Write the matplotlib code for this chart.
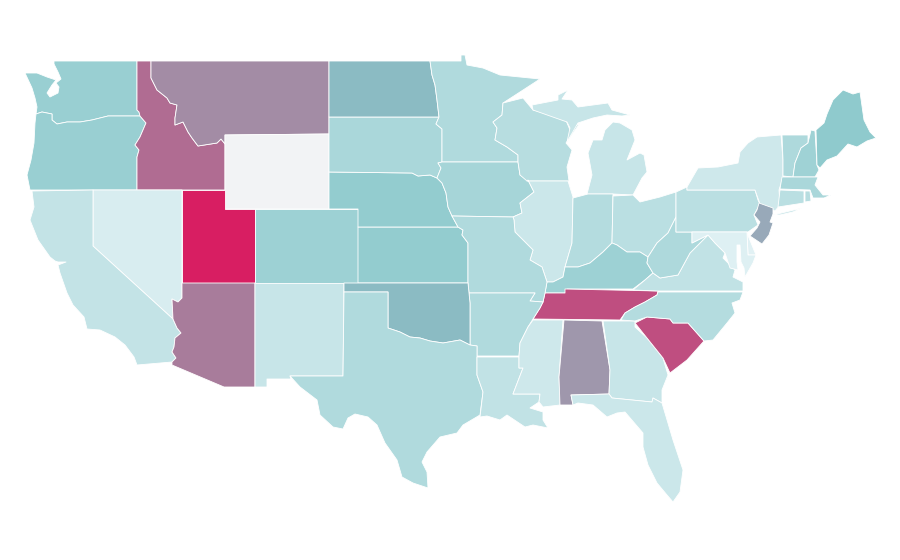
import matplotlib
matplotlib.use("Agg")
import matplotlib.pyplot as plt
import numpy as np
from matplotlib.colors import LinearSegmentedColormap, Normalize

# rough state outlines, pixel space of a 900x560 albers-ish projection
# no geo libs available so outlines are traced by hand
states = {
    "WA": [[(54, 61), (137, 61), (137, 110), (139, 112), (140, 116), (108, 116), (92, 120), (80, 122), (67, 122), (57, 124), (52, 120), (52, 114), (42, 112), (36, 114), (37, 107), (35, 98), (32, 88), (25, 73), (37, 73), (47, 77), (56, 80), (52, 85), (47, 93), (50, 97), (58, 93), (59, 87), (56, 83), (61, 79), (58, 72), (54, 64)]],
    "OR": [[(36, 114), (42, 112), (52, 114), (52, 120), (57, 124), (67, 122), (80, 122), (92, 120), (108, 116), (140, 116), (146, 123), (140, 137), (135, 145), (139, 150), (137, 157), (137, 190), (30, 190), (27, 175), (31, 160), (34, 143), (35, 123)]],
    "ID": [[(137, 61), (151, 61), (151, 78), (157, 90), (167, 98), (170, 103), (177, 105), (175, 118), (175, 125), (183, 122), (188, 132), (192, 138), (198, 146), (217, 143), (221, 139), (225, 144), (225, 190), (137, 190), (137, 157), (139, 150), (135, 145), (140, 137), (146, 123), (140, 116), (139, 112), (137, 110)]],
    "MT": [[(151, 61), (329, 61), (329, 134), (225, 135), (225, 144), (221, 139), (217, 143), (198, 146), (192, 138), (188, 132), (183, 122), (175, 125), (175, 118), (177, 105), (170, 103), (167, 98), (157, 90), (151, 78)]],
    "WY": [[(225, 135), (329, 134), (329, 209), (225, 209)]],
    "UT": [[(182, 190), (225, 190), (225, 209), (255, 209), (255, 283), (182, 283)]],
    "NV": [[(93, 190), (182, 190), (182, 298), (178, 302), (172, 299), (173, 319), (93, 246)]],
    "CA": [[(32, 191), (93, 190), (93, 246), (173, 319), (177, 328), (181, 333), (175, 338), (174, 347), (172, 352), (176, 358), (172, 362), (137, 365), (134, 357), (125, 345), (115, 337), (100, 330), (87, 329), (84, 317), (73, 305), (67, 293), (60, 273), (58, 265), (66, 262), (58, 262), (55, 261), (50, 257), (38, 240), (30, 220), (34, 207)]],
    "AZ": [[(182, 283), (255, 283), (255, 387), (224, 387), (172, 365), (172, 362), (176, 358), (172, 352), (174, 347), (175, 338), (181, 333), (177, 328), (173, 319), (172, 299), (178, 302), (182, 298)]],
    "NM": [[(255, 283), (344, 283), (343, 376), (290, 376), (291, 379), (267, 379), (267, 387), (255, 387)]],
    "CO": [[(255, 209), (358, 209), (358, 283), (255, 283)]],
    "KS": [[(358, 227), (458, 227), (463, 230), (462, 235), (468, 243), (468, 283), (358, 283)]],
    "NE": [[(329, 172), (412, 173), (418, 176), (430, 175), (437, 178), (442, 183), (446, 193), (448, 207), (452, 216), (458, 227), (358, 227), (358, 209), (329, 209)]],
    "SD": [[(329, 117), (439, 117), (436, 124), (442, 129), (442, 162), (438, 163), (441, 168), (437, 178), (430, 175), (418, 176), (412, 173), (329, 172)]],
    "ND": [[(329, 61), (430, 61), (432, 75), (435, 85), (437, 100), (439, 117), (329, 117)]],
    "MN": [[(430, 61), (461, 61), (461, 55), (465, 55), (467, 65), (483, 68), (500, 75), (520, 77), (540, 79), (520, 92), (503, 103), (502, 115), (493, 122), (497, 128), (495, 140), (507, 147), (518, 155), (518, 162), (442, 162), (442, 129), (436, 124), (439, 117), (437, 100), (435, 85), (432, 75)]],
    "IA": [[(442, 162), (518, 162), (520, 175), (528, 180), (534, 192), (520, 203), (522, 213), (513, 217), (452, 216), (448, 207), (446, 193), (442, 183), (437, 178), (441, 168), (438, 163)]],
    "WI": [[(503, 103), (523, 98), (533, 110), (565, 118), (570, 130), (580, 123), (566, 143), (572, 150), (567, 167), (569, 181), (527, 181), (520, 175), (518, 162), (518, 155), (507, 147), (495, 140), (497, 128), (493, 122), (502, 115)]],
    "MI": [[(532, 105), (558, 100), (558, 95), (568, 90), (562, 99), (572, 100), (578, 107), (608, 103), (612, 110), (630, 115), (622, 116), (607, 115), (593, 118), (578, 123), (567, 142), (570, 128), (567, 122), (533, 110)],
           [(613, 122), (605, 130), (602, 140), (593, 140), (588, 153), (592, 175), (587, 194), (613, 194), (633, 195), (642, 178), (647, 172), (644, 155), (640, 153), (627, 160), (635, 140), (632, 130), (620, 123)]],
    "IL": [[(527, 181), (568, 181), (573, 197), (572, 243), (565, 267), (563, 277), (553, 282), (547, 282), (542, 267), (530, 260), (533, 250), (525, 242), (515, 232), (514, 220), (513, 217), (522, 213), (520, 203), (534, 192), (528, 180)]],
    "IN": [[(573, 198), (588, 194), (613, 194), (612, 243), (603, 252), (590, 263), (578, 267), (565, 267), (572, 243)]],
    "OH": [[(613, 196), (633, 195), (640, 202), (660, 197), (676, 192), (676, 217), (668, 233), (657, 243), (648, 257), (640, 252), (627, 252), (617, 245), (612, 243)]],
    "KY": [[(565, 267), (578, 267), (590, 263), (603, 252), (612, 243), (617, 245), (627, 252), (640, 252), (648, 257), (647, 263), (653, 273), (645, 280), (633, 289), (567, 289), (565, 293), (545, 293), (547, 282), (553, 282), (563, 277)]],
    "TN": [[(545, 293), (565, 293), (565, 289), (658, 291), (657, 295), (645, 302), (635, 307), (625, 313), (620, 320), (533, 319), (540, 308), (543, 302)]],
    "MO": [[(452, 216), (513, 217), (514, 220), (515, 232), (525, 242), (533, 250), (530, 260), (542, 267), (547, 282), (545, 293), (543, 302), (530, 301), (535, 293), (469, 293), (468, 283), (468, 243), (462, 235), (463, 230), (458, 227)]],
    "AR": [[(469, 293), (535, 293), (530, 301), (543, 302), (540, 308), (533, 319), (528, 327), (520, 343), (519, 356), (477, 356), (477, 346), (470, 345), (470, 303)]],
    "OK": [[(344, 283), (468, 283), (469, 293), (470, 303), (470, 345), (460, 340), (443, 343), (430, 341), (420, 338), (410, 337), (400, 332), (388, 328), (388, 292), (344, 292)]],
    "TX": [[(344, 292), (388, 292), (388, 328), (400, 332), (410, 337), (420, 338), (430, 341), (443, 343), (460, 340), (470, 345), (477, 346), (477, 375), (483, 392), (480, 415), (463, 425), (457, 433), (440, 437), (427, 452), (422, 462), (427, 472), (428, 488), (413, 483), (402, 477), (397, 460), (385, 443), (377, 425), (368, 417), (355, 414), (348, 418), (343, 429), (333, 427), (320, 415), (317, 400), (300, 387), (290, 376), (343, 376)]],
    "LA": [[(477, 357), (519, 357), (519, 368), (523, 368), (513, 394), (540, 394), (539, 402), (530, 408), (543, 412), (543, 420), (548, 428), (533, 425), (525, 427), (507, 415), (500, 420), (487, 416), (480, 417), (483, 392), (477, 375)]],
    "MS": [[(533, 320), (563, 320), (559, 377), (560, 405), (543, 407), (539, 402), (540, 394), (513, 394), (523, 368), (519, 368), (519, 356), (520, 343), (528, 327)]],
    "AL": [[(564, 320), (602, 321), (610, 370), (609, 394), (571, 395), (573, 405), (560, 405), (559, 377)]],
    "GA": [[(603, 321), (635, 321), (635, 327), (647, 338), (663, 358), (668, 375), (662, 390), (662, 403), (653, 398), (652, 402), (612, 398), (609, 394), (610, 370)]],
    "FL": [[(571, 395), (609, 394), (612, 398), (652, 402), (653, 398), (662, 403), (673, 440), (683, 470), (680, 492), (673, 502), (667, 495), (657, 483), (648, 465), (643, 447), (643, 433), (625, 412), (617, 413), (607, 417), (593, 405), (578, 403), (573, 405)]],
    "SC": [[(635, 323), (647, 317), (670, 319), (673, 323), (688, 323), (704, 341), (687, 360), (670, 373), (663, 358), (647, 338)]],
    "NC": [[(658, 292), (743, 292), (740, 300), (732, 303), (735, 313), (727, 323), (713, 340), (704, 341), (688, 323), (673, 323), (670, 319), (647, 317), (635, 321), (621, 320), (625, 313), (635, 307), (645, 302), (657, 295)]],
    "VA": [[(633, 290), (645, 280), (653, 273), (660, 278), (678, 275), (690, 253), (708, 235), (715, 243), (725, 253), (723, 258), (735, 270), (733, 277), (743, 282), (743, 291), (658, 291)]],
    "WV": [[(676, 217), (676, 232), (692, 232), (692, 243), (708, 235), (690, 253), (678, 275), (660, 278), (653, 273), (647, 263), (648, 257), (657, 243), (668, 233)]],
    "PA": [[(676, 192), (687, 187), (687, 190), (755, 190), (758, 200), (760, 204), (754, 215), (758, 225), (748, 232), (676, 232)]],
    "NY": [[(687, 190), (687, 187), (698, 168), (718, 167), (738, 163), (740, 152), (748, 143), (757, 137), (781, 135), (783, 160), (783, 177), (779, 190), (780, 205), (775, 211), (760, 204), (755, 190)],
           [(773, 215), (802, 208), (793, 212), (780, 215)]],
    "VT": [[(782, 135), (808, 135), (808, 143), (801, 148), (795, 163), (793, 177), (783, 176), (783, 160)]],
    "NH": [[(811, 130), (815, 131), (817, 165), (819, 170), (815, 177), (793, 177), (795, 163), (801, 148), (808, 143)]],
    "ME": [[(816, 130), (824, 123), (827, 114), (833, 100), (843, 90), (853, 94), (860, 92), (864, 120), (870, 132), (876, 138), (867, 141), (857, 147), (848, 144), (837, 156), (827, 160), (820, 168), (817, 165)]],
    "MA": [[(782, 177), (818, 177), (815, 185), (823, 195), (831, 195), (824, 198), (813, 198), (810, 190), (780, 189)]],
    "CT": [[(780, 190), (804, 191), (804, 203), (778, 207)]],
    "RI": [[(805, 191), (810, 191), (811, 201), (805, 202)]],
    "NJ": [[(759, 203), (773, 208), (773, 214), (770, 222), (773, 223), (769, 235), (762, 244), (750, 236), (757, 228), (760, 222), (754, 215), (757, 210)]],
    "DE": [[(747, 233), (756, 255), (748, 255)]],
    "MD": [[(692, 232), (747, 232), (748, 255), (756, 255), (753, 263), (745, 277), (744, 268), (741, 262), (740, 245), (737, 245), (737, 262), (738, 270), (730, 268), (725, 253), (715, 243), (708, 235), (692, 243)]],
}

state_codes = ["WA", "OR", "ID", "MT", "WY", "UT", "NV", "CA", "AZ", "NM", "CO", "KS", "NE", "SD", "ND", "MN", "IA", "WI", "MI", "IL", "IN", "OH", "KY", "TN", "MO", "AR", "OK", "TX", "LA", "MS", "AL", "GA", "FL", "SC", "NC", "VA", "WV", "PA", "NY", "VT", "NH", "ME", "MA", "CT", "RI", "NJ", "DE", "MD"]
state_values = [22, 22, 72, 55, np.nan, 100, 3, 9, 62, 8, 21, 24, 24, 17, 30, 15, 18, 13, 8, 7, 14, 12, 21, 85, 15, 15, 30, 15, 10, 6, 50, 8, 7, 85, 14, 10, 16, 12, 6, 16, 20, 25, 17, 12, 13, 42, 0, 1]

cmap = LinearSegmentedColormap.from_list(
    "teal_pink",
    [(0.0, "#e1f1f4"), (0.25, "#8fcacd"), (0.30, "#8bbac3"), (0.42, "#98a9b9"),
     (0.50, "#9f97ac"), (0.62, "#a87c9b"), (0.72, "#b06c92"), (0.85, "#bf4e80"), (1.0, "#d81e62")],
)
cmap.set_bad("#f2f3f5")
norm = Normalize(0, 100)

fig = plt.figure(figsize=(9, 5.6), dpi=100)
ax = fig.add_axes([0, 0, 1, 1])
ax.set_xlim(0, 900)
ax.set_ylim(560, 0)
ax.axis("off")

for code, value in zip(state_codes, state_values):
    color = cmap(norm(np.ma.masked_invalid(value)))
    for ring in states[code]:
        xs, ys = zip(*ring)
        ax.fill(xs, ys, facecolor=color, edgecolor="white", linewidth=0.6, joinstyle="round")

fig.savefig("out.png", dpi=100, facecolor="white")
